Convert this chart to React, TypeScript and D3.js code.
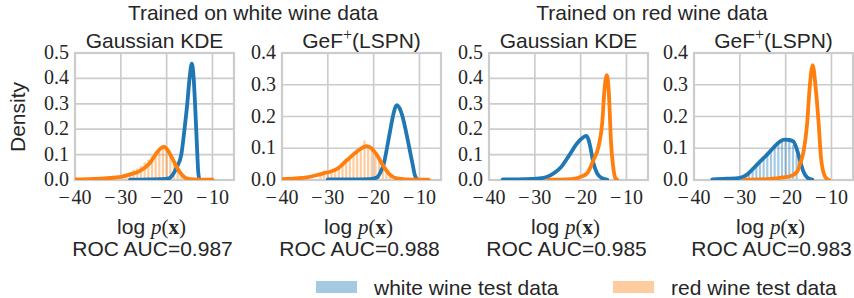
import React from 'react';
import * as d3 from 'd3';

// ---------- data ----------
const xTicks = [-40, -30, -20, -10];
const yTicks05 = [0, 0.1, 0.2, 0.3, 0.4, 0.5];
const yTicks04 = [0, 0.1, 0.2, 0.3, 0.4];
const groupTitles = ['Trained on white wine data', 'Trained on red wine data'];
const methodNames = ['Gaussian KDE', 'GeF+', 'Gaussian KDE', 'GeF+'];
const aucValues = ['0.987', '0.988', '0.985', '0.983'];
const yMaxes = [0.5, 0.4, 0.5, 0.4];
const legendLabels = ['white wine test data', 'red wine test data'];

// KDE curves: [logp, density]
const white1: [number, number][] = [[-28, 0.001], [-24, 0.002], [-21, 0.003], [-19.5, 0.006], [-18.7, 0.02], [-17.8, 0.05], [-16.8, 0.1], [-16.1, 0.2], [-15.5, 0.3], [-15, 0.4], [-14.5, 0.458], [-14.1, 0.4], [-13.8, 0.3], [-13.55, 0.2], [-13.3, 0.1], [-13.1, 0.03], [-12.8, 0.003], [-12.5, 0]];
const red1: [number, number][] = [[-40, 0.002], [-36, 0.004], [-33, 0.007], [-30, 0.012], [-28, 0.022], [-25.9, 0.035], [-23.7, 0.066], [-22.2, 0.106], [-21.2, 0.126], [-20.6, 0.131], [-19.8, 0.118], [-18.6, 0.079], [-17.2, 0.033], [-15.7, 0.007], [-14, 0.002], [-10, 0.001]];
const white2: [number, number][] = [[-30, 0.002], [-25, 0.002], [-21, 0.003], [-19.3, 0.008], [-18.5, 0.025], [-17.8, 0.05], [-17.1, 0.1], [-16.4, 0.155], [-15.8, 0.2], [-15.3, 0.228], [-14.9, 0.236], [-14.4, 0.228], [-13.7, 0.2], [-12.9, 0.15], [-12.2, 0.1], [-11.5, 0.05], [-11, 0.015], [-10.5, 0.002]];
const red2: [number, number][] = [[-40, 0.003], [-37, 0.005], [-34.6, 0.008], [-32.5, 0.015], [-31, 0.021], [-29.5, 0.026], [-28, 0.035], [-25.8, 0.063], [-23.7, 0.089], [-22.3, 0.103], [-21.5, 0.107], [-20.5, 0.1], [-19.3, 0.079], [-17.8, 0.042], [-16.4, 0.016], [-14.9, 0.005], [-13, 0.002], [-8, 0.001]];
const white3: [number, number][] = [[-37, 0.002], [-32, 0.003], [-29, 0.006], [-27.4, 0.012], [-25.9, 0.026], [-24.3, 0.05], [-22.4, 0.1], [-20.8, 0.144], [-19.7, 0.164], [-18.8, 0.174], [-18.3, 0.16], [-17.9, 0.131], [-17.2, 0.066], [-16.4, 0.026], [-15.3, 0.007], [-14.2, 0.001]];
const red3: [number, number][] = [[-27, 0.001], [-23, 0.002], [-21, 0.006], [-20.1, 0.012], [-18.6, 0.026], [-17.2, 0.079], [-16.1, 0.131], [-15.3, 0.223], [-14.8, 0.354], [-14.3, 0.413], [-13.9, 0.36], [-13.7, 0.289], [-13.4, 0.157], [-12.9, 0.052], [-12.4, 0.007], [-12, 0.001]];
const white4: [number, number][] = [[-36, 0.002], [-33, 0.004], [-30, 0.007], [-28.5, 0.016], [-27, 0.037], [-25.6, 0.058], [-24.1, 0.079], [-22.6, 0.103], [-21.2, 0.122], [-20.2, 0.127], [-19.2, 0.126], [-18.3, 0.121], [-17.5, 0.094], [-16.8, 0.058], [-16.1, 0.026], [-15.3, 0.008], [-14.2, 0.001]];
const red4: [number, number][] = [[-29, 0.001], [-24, 0.003], [-20.5, 0.008], [-19, 0.012], [-17.5, 0.026], [-16.8, 0.053], [-16.1, 0.089], [-15.3, 0.179], [-14.8, 0.283], [-14.1, 0.362], [-13.4, 0.283], [-12.8, 0.179], [-12.3, 0.073], [-11.7, 0.021], [-11, 0.003], [-10.5, 0]];

// histograms (bin start, bin width, heights)
const histBinWidth = 0.8;
const hist1RedStart = -30;
const hist1Red = [0.02, 0.025, 0.03, 0.04, 0.045, 0.055, 0.07, 0.08, 0.095, 0.11, 0.125, 0.13, 0.12, 0.1, 0.075, 0.05, 0.03, 0.015, 0.006];
const hist2RedStart = -32;
const hist2Red = [0.02, 0.03, 0.025, 0.03, 0.035, 0.04, 0.05, 0.055, 0.065, 0.08, 0.085, 0.09, 0.125, 0.105, 0.095, 0.075, 0.06, 0.04, 0.025, 0.012];
const hist4WhiteStart = -29.2;
const hist4White = [0.02, 0.03, 0.04, 0.05, 0.06, 0.07, 0.08, 0.095, 0.105, 0.115, 0.12, 0.125, 0.12, 0.11, 0.08];

// ---------- styling ----------
const BLUE = '#1f77b4';
const ORANGE = '#ff7f0e';
const GRID = '#cccccc';
const TEXT = '#262626';
const SANS = "'Liberation Sans', Arial, Helvetica, sans-serif";
const SERIF = "'Liberation Serif', 'DejaVu Serif', 'Times New Roman', serif";

const panelLefts = [75, 282, 489, 694];
const panelW = 159;
const top = 53;
const bottom = 180;
const xDomain: [number, number] = [-40, -5.3];

const whiteCurves = [white1, white2, white3, white4];
const redCurves = [red1, red2, red3, red4];
const hists = [
  { start: hist1RedStart, heights: hist1Red, color: ORANGE },
  { start: hist2RedStart, heights: hist2Red, color: ORANGE },
  null,
  { start: hist4WhiteStart, heights: hist4White, color: BLUE },
];

const fmtX = (v: number) => (v < 0 ? '\u2212\u200A' + Math.abs(v) : String(v));

function Panel({ i }: { i: number }) {
  const left = panelLefts[i];
  const x = d3.scaleLinear().domain(xDomain).range([left, left + panelW]);
  const y = d3.scaleLinear().domain([0, yMaxes[i]]).range([bottom, top]);
  const yTicks = yMaxes[i] === 0.5 ? yTicks05 : yTicks04;
  const line = d3
    .line<[number, number]>()
    .x((d) => x(d[0]))
    .y((d) => y(d[1]))
    .curve(d3.curveMonotoneX);
  const h = hists[i];
  const clipId = `clip${i}`;
  const cx = left + panelW / 2;
  const bars = h
    ? h.heights.map((v, k) => {
        const b0 = h.start + k * histBinWidth;
        const b1 = b0 + histBinWidth;
        const px0 = x(b0);
        const px1 = x(b1);
        const w = px1 - px0;
        return (
          <rect key={k} x={px0 + w * 0.2} y={y(v)} width={w * 0.6} height={bottom - y(v)} fill={h.color} fillOpacity={0.4} />
        );
      })
    : null;
  return (
    <g>
      <defs>
        <clipPath id={clipId}>
          <rect x={left} y={top} width={panelW} height={bottom - top} />
        </clipPath>
      </defs>
      <rect x={left} y={top} width={panelW} height={bottom - top} fill="white" />
      {xTicks.map((t) => (
        <line key={'gx' + t} x1={x(t)} x2={x(t)} y1={top} y2={bottom} stroke={GRID} strokeWidth={1.7} />
      ))}
      {yTicks.map((t) => (
        <line key={'gy' + t} x1={left} x2={left + panelW} y1={y(t)} y2={y(t)} stroke={GRID} strokeWidth={1.7} />
      ))}
      <g clipPath={`url(#${clipId})`}>{bars}</g>
      <rect x={left} y={top} width={panelW} height={bottom - top} fill="none" stroke={GRID} strokeWidth={2.2} />
      <g clipPath={`url(#${clipId})`}>
        <path d={line(whiteCurves[i]) || ''} fill="none" stroke={BLUE} strokeWidth={3.8} strokeLinejoin="round" strokeLinecap="round" />
        <path d={line(redCurves[i]) || ''} fill="none" stroke={ORANGE} strokeWidth={3.8} strokeLinejoin="round" strokeLinecap="round" />
      </g>
      {yTicks.map((t) => (
        <text key={'ty' + t} x={left - 6} y={y(t) + 6} textAnchor="end" style={{ fontFamily: SERIF }} fontSize={20} fill={TEXT}>
          {t.toFixed(1)}
        </text>
      ))}
      {xTicks.map((t) => (
        <text key={'tx' + t} x={x(t)} y={204} textAnchor="middle" style={{ fontFamily: SERIF }} fontSize={20} fill={TEXT}>
          {fmtX(t)}
        </text>
      ))}
      <text x={cx} y={48} textAnchor="middle" style={{ fontFamily: SANS }} fontSize={21} fill={TEXT}>
        {methodNames[i] === 'GeF+' ? (
          <>
            <tspan>GeF</tspan>
            <tspan style={{ fontFamily: SERIF }} fontSize={16} dy={-8}>+</tspan>
            <tspan dy={8}>(LSPN)</tspan>
          </>
        ) : (
          methodNames[i]
        )}
      </text>
      <text x={cx - 3} y={234} textAnchor="middle" style={{ fontFamily: SANS }} fontSize={21} fill={TEXT}>
        <tspan>log </tspan>
        <tspan style={{ fontFamily: SERIF, fontStyle: 'italic' }}>p</tspan>
        <tspan style={{ fontFamily: SERIF }}>(</tspan>
        <tspan style={{ fontFamily: SERIF, fontWeight: 'bold' }}>x</tspan>
        <tspan style={{ fontFamily: SERIF }}>)</tspan>
      </text>
      <text x={cx - 2} y={256} textAnchor="middle" style={{ fontFamily: SANS }} fontSize={21} fill={TEXT}>
        {'ROC AUC=' + aucValues[i]}
      </text>
    </g>
  );
}

export default function App() {
  return (
    <svg
      width={854}
      height={298}
      viewBox="0 0 854 298"
      style={{ position: 'absolute', left: 0, top: 0, display: 'block', background: 'white' }}
    >
      <rect x={0} y={0} width={854} height={298} fill="white" />
      <text x={253} y={20} textAnchor="middle" style={{ fontFamily: SANS }} fontSize={21} fill={TEXT}>
        {groupTitles[0]}
      </text>
      <text x={652} y={20} textAnchor="middle" style={{ fontFamily: SANS }} fontSize={21} fill={TEXT}>
        {groupTitles[1]}
      </text>
      <text x={25} y={117} textAnchor="middle" style={{ fontFamily: SANS }} fontSize={21} fill={TEXT} transform="rotate(-90 25 117)">
        Density
      </text>
      {[0, 1, 2, 3].map((i) => (
        <Panel key={i} i={i} />
      ))}
      <rect x={316} y={281} width={41} height={12} fill={BLUE} fillOpacity={0.4} />
      <text x={374} y={295} style={{ fontFamily: SANS }} fontSize={21} fill={TEXT}>
        {legendLabels[0]}
      </text>
      <rect x={613} y={281} width={41} height={12} fill={ORANGE} fillOpacity={0.4} />
      <text x={671} y={295} style={{ fontFamily: SANS }} fontSize={21} fill={TEXT}>
        {legendLabels[1]}
      </text>
    </svg>
  );
}
